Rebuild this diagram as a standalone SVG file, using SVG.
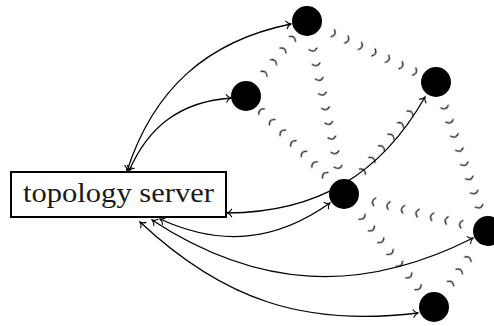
<svg xmlns="http://www.w3.org/2000/svg" width="494" height="326" viewBox="0 0 494 326">
  <style>
    .link { fill: none; stroke: #000; stroke-width: 1.3; marker-start: url(#tip); marker-end: url(#tip); }
    .wave { fill: url(#arcs); }
    .peer { fill: #000; }
    .box { fill: #fff; stroke: #000; stroke-width: 2; }
    .label { font-family: "Liberation Serif", "DejaVu Serif", serif; font-size: 28px; fill: #1a1a1a; }
  </style>
  <defs>
    <!-- open "to" style arrow tip -->
    <marker id="tip" viewBox="-6 -5 8 10" markerWidth="8" markerHeight="10" refX="0" refY="0"
            orient="auto-start-reverse" markerUnits="userSpaceOnUse" overflow="visible">
      <path d="M-4.6,-3.8 C-3.6,-1.7 -1.3,-0.4 0,0 C-1.3,0.4 -3.6,1.7 -4.6,3.8"
            fill="none" stroke="#000" stroke-width="1.1" stroke-linecap="round"/>
    </marker>
    <!-- one small arc every 15 units along the local x axis -->
    <pattern id="arcs" patternUnits="userSpaceOnUse" x="0" y="-5" width="15" height="10">
      <path d="M6,1 Q10.5,5 6,9" fill="none" stroke="#000" stroke-width="1.15" stroke-linecap="round"/>
    </pattern>
  </defs>

  <!-- peer-to-peer links (arc-dotted) and server links (curved arrows) -->
  <g id="connectors">
    <g id="peer-links">
      <rect class="wave" x="0" y="-5" width="105" height="10" transform="translate(307,21) rotate(25.3) translate(22.5,0)"/>
      <rect class="wave" x="0" y="-5" width="135" height="10" transform="translate(307,21) rotate(77.9) translate(22.5,0)"/>
      <rect class="wave" x="0" y="-5" width="105" height="10" transform="translate(344,194) rotate(-135) translate(20.5,0)"/>
      <rect class="wave" x="0" y="-5" width="90" height="10" transform="translate(344,194) rotate(-50.6) translate(23,0)"/>
      <rect class="wave" x="0" y="-5" width="120" height="10" transform="translate(436,82) rotate(70.8) translate(20,0)"/>
      <rect class="wave" x="0" y="-5" width="105" height="10" transform="translate(488,231) rotate(-165.6) translate(21,0)"/>
      <rect class="wave" x="0" y="-5" width="105" height="10" transform="translate(344,194) rotate(51.5) translate(23,0)"/>
      <rect class="wave" x="0" y="-5" width="45" height="10" transform="translate(434,307) rotate(-54.6) translate(22.5,0)"/>
      <rect class="wave" x="0" y="-5" width="60" height="10" transform="translate(246,96) rotate(-50.9) translate(22.5,0)"/>
    </g>
    <g id="server-links">
      <path class="link" d="M127,171 C153.5,89 207,41 291,24"/>
      <path class="link" d="M129,171 C149,125 182,101.5 231,98"/>
      <path class="link" d="M227,213 C316.9,212.4 380.6,175.2 425,97"/>
      <path class="link" d="M160,219 C220.7,246.8 275.5,241.7 330,203"/>
      <path class="link" d="M152,220 C257.4,288.9 360.6,294.8 473,238"/>
      <path class="link" d="M140,222 C223.6,300.2 304.3,326.8 418,313"/>
    </g>
  </g>

  <g id="server">
    <rect class="box" x="11" y="172" width="215" height="45"/>
    <text class="label" x="118.5" y="202" text-anchor="middle" textLength="191" lengthAdjust="spacingAndGlyphs">topology server</text>
  </g>
  <g id="peer-a"><circle class="peer" cx="307" cy="21" r="15"/></g>
  <g id="peer-b"><circle class="peer" cx="246" cy="96" r="15"/></g>
  <g id="peer-c"><circle class="peer" cx="436" cy="82" r="15"/></g>
  <g id="peer-d"><circle class="peer" cx="344" cy="194" r="15"/></g>
  <g id="peer-e"><circle class="peer" cx="488" cy="231" r="15"/></g>
  <g id="peer-f"><circle class="peer" cx="434" cy="307" r="15"/></g>
</svg>
